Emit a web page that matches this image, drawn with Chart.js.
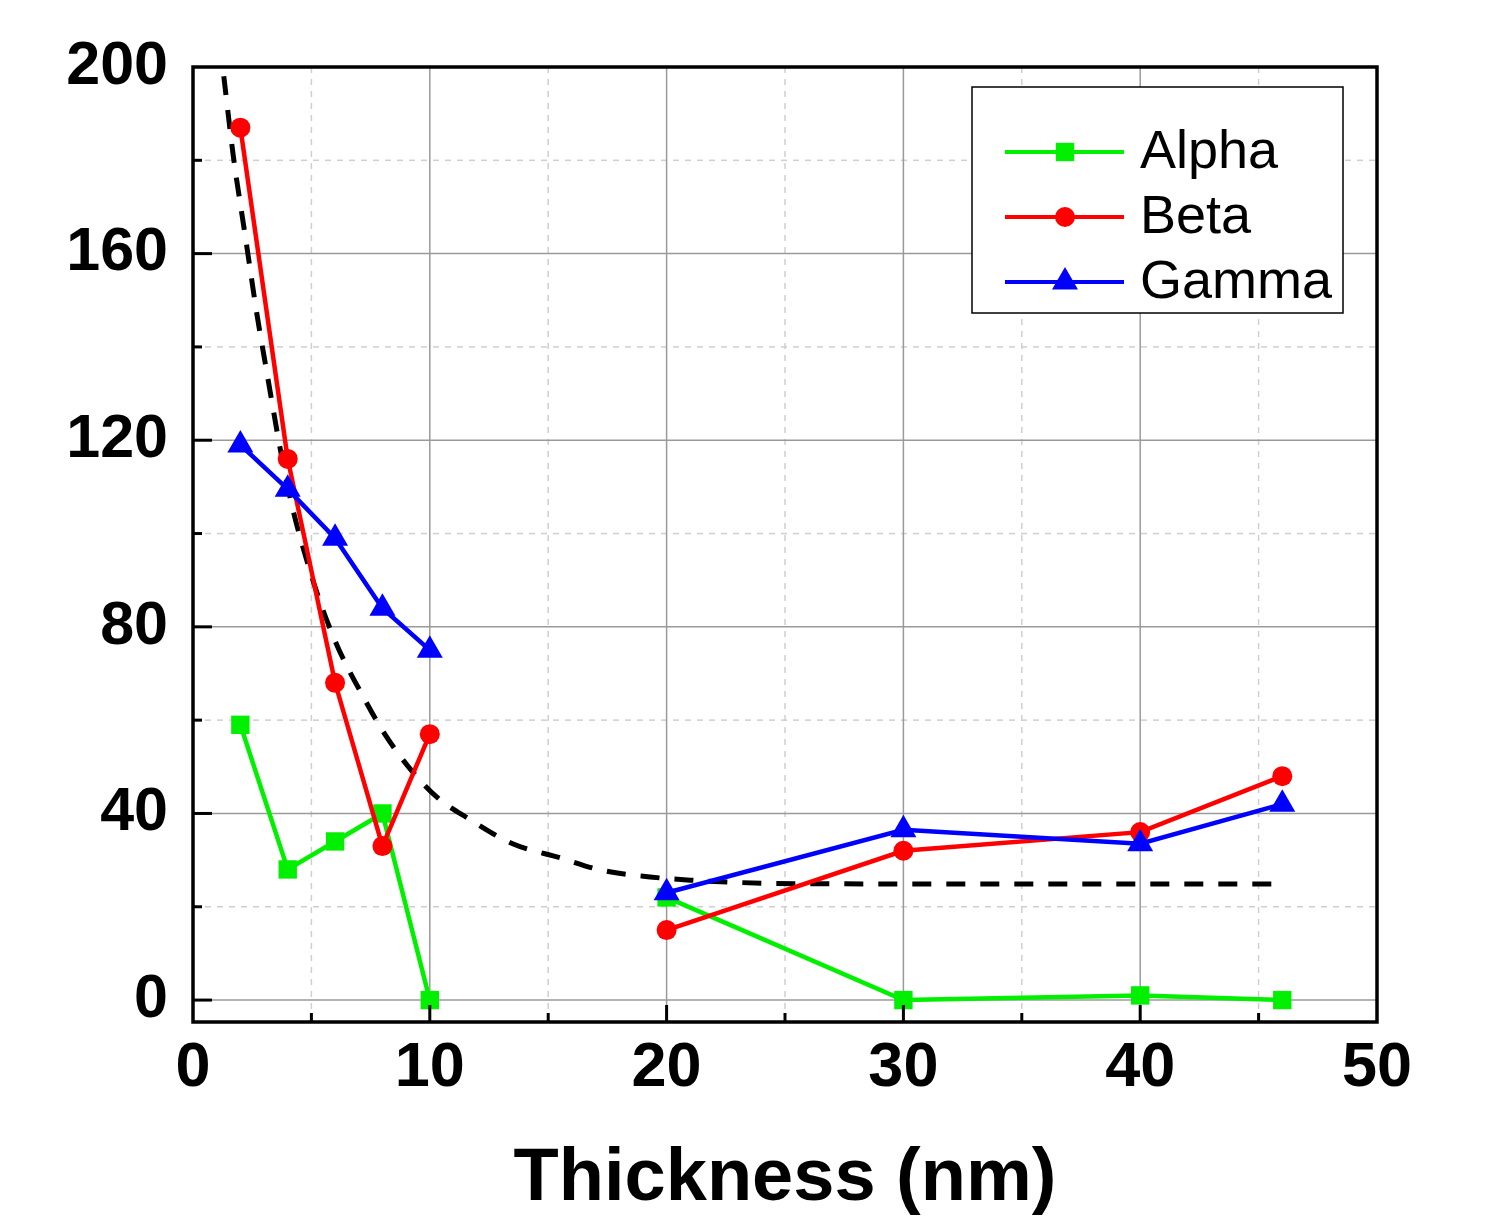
<!DOCTYPE html>
<html>
<head>
<meta charset="utf-8">
<script src="https://cdn.jsdelivr.net/npm/chart.js@4/dist/chart.umd.min.js"></script>
<style>
  body { margin: 0; background: #fff; }
  canvas { display: block; }
</style>
</head>
<body>
<canvas id="myChart" width="1499" height="1218"></canvas>
<script>
"use strict";

// values
const thickness = [2, 4, 6, 8, 10, 20, 30, 40, 46]
const alpha = [59, 28, 34, 40, 0, 22, 0, 1, 0]
const beta = [187, 116, 68, 33, 57, 15, 32, 36, 48]
const gamma = [119, 109.5, 99, 84, 75, 23, 36.5, 33.5, 42]

// dashed guide curve, traced point by point
const curveX = [1.3, 1.7, 2.2, 2.7, 3.0, 4, 5, 6, 7.3, 8.1, 9.1, 10.3, 11.6, 13.5, 15.5, 17.2, 19.3, 21, 22.6, 24.4, 30, 40, 45.6]
const curveY = [198, 181, 164, 147, 138, 110, 91, 77, 64, 57, 50, 43.5, 39, 33.5, 30.5, 27.9, 26.4, 25.7, 25.3, 25, 24.9, 24.9, 24.9]

const yTicks = [0, 40, 80, 120, 160, 200]
const seriesNames = ['Alpha', 'Beta', 'Gamma']

const FONT = "'Liberation Sans', Arial, Helvetica, sans-serif"
const GAP_AFTER = 10   // no line drawn between 10 nm and 20 nm

const toPoints = (xs, ys) => xs.map((x, i) => ({ x: x, y: ys[i] }))

const series = (label, values, color, shape, radius, order) => ({
    label: label,
    data: toPoints(thickness, values),
    borderColor: color,
    backgroundColor: color,
    borderWidth: 4.5,
    pointStyle: shape,
    pointRadius: radius,
    pointBorderWidth: 0,
    pointBackgroundColor: color,
    tension: 0,
    order: order,
    segment: {
        borderColor: ctx => ctx.p0.parsed.x === GAP_AFTER ? 'rgba(0,0,0,0)' : color
    }
})

const drawMarker = (ctx, shape, x, y, r, color) => {
    ctx.save()
    ctx.fillStyle = color
    ctx.beginPath()
    if (shape === 'rect') {
        const s = Math.SQRT1_2 * r
        ctx.rect(x - s, y - s, 2 * s, 2 * s)
    } else if (shape === 'circle') {
        ctx.arc(x, y, r, 0, Math.PI * 2)
    } else {
        ctx.moveTo(x, y - r)
        ctx.lineTo(x + r * Math.sin(Math.PI * 2 / 3), y + r / 2)
        ctx.lineTo(x - r * Math.sin(Math.PI * 2 / 3), y + r / 2)
        ctx.closePath()
    }
    ctx.fill()
    ctx.restore()
}

const framePlugin = {
    id: 'frame',
    beforeDatasetsDraw(chart) {
        const { ctx, chartArea: a, scales: { x, y } } = chart
        ctx.save()
        ctx.lineWidth = 1.5
        // minor grid, dashed
        ctx.strokeStyle = '#cfcfcf'
        ctx.setLineDash([6, 6])
        for (let v = 5; v < 50; v += 10) {
            const px = x.getPixelForValue(v)
            ctx.beginPath(); ctx.moveTo(px, a.top); ctx.lineTo(px, a.bottom); ctx.stroke()
        }
        for (let v = 20; v < 200; v += 40) {
            const py = y.getPixelForValue(v)
            ctx.beginPath(); ctx.moveTo(a.left, py); ctx.lineTo(a.right, py); ctx.stroke()
        }
        // major grid, solid
        ctx.setLineDash([])
        ctx.strokeStyle = '#9a9a9a'
        for (let v = 10; v < 50; v += 10) {
            const px = x.getPixelForValue(v)
            ctx.beginPath(); ctx.moveTo(px, a.top); ctx.lineTo(px, a.bottom); ctx.stroke()
        }
        for (let v = 0; v < 200; v += 40) {
            const py = y.getPixelForValue(v)
            ctx.beginPath(); ctx.moveTo(a.left, py); ctx.lineTo(a.right, py); ctx.stroke()
        }
        ctx.restore()
    },
    afterDatasetsDraw(chart) {
        const { ctx, chartArea: a, scales: { x, y } } = chart
        ctx.save()
        ctx.strokeStyle = '#000'
        ctx.lineWidth = 3.5
        ctx.strokeRect(a.left, a.top, a.right - a.left, a.bottom - a.top)
        ctx.lineWidth = 3
        for (let v = 5; v < 50; v += 5) {
            const px = x.getPixelForValue(v)
            const len = v % 10 === 0 ? 17 : 9
            ctx.beginPath(); ctx.moveTo(px, a.bottom); ctx.lineTo(px, a.bottom - len); ctx.stroke()
        }
        for (let v = 0; v < 200; v += 20) {
            const py = y.getPixelForValue(v)
            const len = v % 40 === 0 ? 19 : 9
            ctx.beginPath(); ctx.moveTo(a.left, py); ctx.lineTo(a.left + len, py); ctx.stroke()
        }

        // legend box
        const bx = 972, by = 87, bw = 371, bh = 226
        ctx.fillStyle = '#fff'
        ctx.fillRect(bx, by, bw, bh)
        ctx.lineWidth = 1.5
        ctx.strokeRect(bx, by, bw, bh)
        const rows = [152, 217, 282]
        seriesNames.forEach((name, i) => {
            const ds = chart.data.datasets.find(d => d.label === name)
            const ly = rows[i]
            ctx.strokeStyle = ds.borderColor
            ctx.lineWidth = 4
            ctx.beginPath(); ctx.moveTo(1005, ly); ctx.lineTo(1124, ly); ctx.stroke()
            drawMarker(ctx, ds.pointStyle, 1065, ly, ds.pointRadius, ds.borderColor)
            ctx.fillStyle = '#000'
            ctx.font = `54px ${FONT}`
            ctx.textAlign = 'left'
            ctx.textBaseline = 'middle'
            ctx.fillText(name, 1140, ly + 1)
        })
        ctx.restore()
    }
}

const chart = new Chart('myChart', {
    type: 'line',
    data: {
        datasets: [
            series('Gamma', gamma, '#0000ff', 'triangle', 15, 1),
            series('Beta', beta, '#ff0000', 'circle', 10, 2),
            series('Alpha', alpha, '#00f000', 'rect', 13, 3),
            {
                label: 'fit',
                data: toPoints(curveX, curveY),
                borderColor: '#000',
                borderWidth: 5,
                borderDash: [19, 15],
                pointRadius: 0,
                cubicInterpolationMode: 'monotone',
                order: 4
            }
        ]
    },
    options: {
        responsive: false,
        animation: false,
        devicePixelRatio: 1,
        layout: { padding: { top: 67, right: 122, left: 0, bottom: 0 } },
        plugins: {
            legend: { display: false },
            tooltip: { enabled: false }
        },
        scales: {
            x: {
                type: 'linear',
                min: 0,
                max: 50,
                grid: { display: false, drawTicks: false },
                border: { display: false },
                ticks: {
                    stepSize: 10,
                    padding: 9,
                    color: '#000',
                    font: { family: FONT, size: 63, weight: 'bold' }
                },
                title: {
                    display: true,
                    text: 'Thickness (nm)',
                    color: '#000',
                    padding: { top: 0, bottom: 1 },
                    font: { family: FONT, size: 74, weight: 'bold', lineHeight: 1 }
                },
                afterFit: scale => { scale.height = 196 }
            },
            y: {
                type: 'linear',
                min: -4.7,
                max: 200,
                grid: { display: false, drawTicks: false },
                border: { display: false },
                ticks: {
                    padding: 25,
                    color: '#000',
                    font: { family: FONT, size: 61, weight: 'bold' }
                },
                afterBuildTicks: scale => { scale.ticks = yTicks.map(v => ({ value: v })) },
                afterFit: scale => { scale.width = 193 }
            }
        }
    },
    plugins: [framePlugin]
})
</script>
</body>
</html>
